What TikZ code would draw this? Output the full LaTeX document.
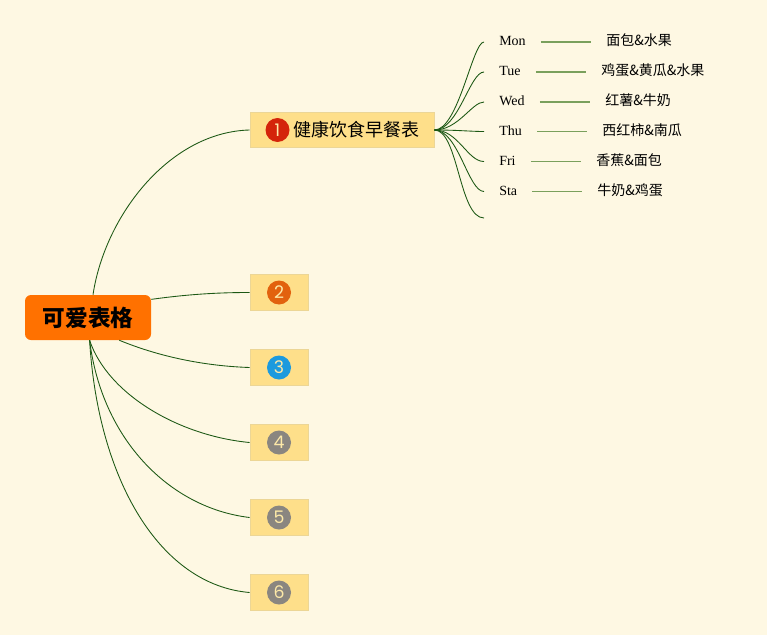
\documentclass[tikz,border=0pt]{standalone}
\usepackage{fontspec}
\setmainfont{Liberation Serif}
\newfontfamily\cjk{Noto Sans CJK SC}
\newfontfamily\numfont{Poppins}
\definecolor{bg}{RGB}{254,248,227}
\definecolor{rootc}{RGB}{255,113,0}
\definecolor{boxc}{RGB}{254,223,138}
\definecolor{boxd}{RGB}{236,214,150}
\definecolor{linec}{RGB}{28,88,20}
\definecolor{leafc}{RGB}{122,160,92}
\definecolor{redc}{RGB}{212,36,10}
\definecolor{orgc}{RGB}{226,98,14}
\definecolor{bluec}{RGB}{28,154,222}
\definecolor{grayc}{RGB}{138,134,128}
\definecolor{digc}{RGB}{253,233,168}
\begin{document}
\begin{tikzpicture}[x=0.75pt,y=-0.75pt,
  rootbox/.style={draw=none,fill=rootc,rounded corners=4.5pt,minimum width=94.5pt,minimum height=33.75pt,inner sep=0pt,
    font=\cjk\bfseries\fontsize{17}{19}\selectfont},
  topicbox/.style={draw=boxd,line width=0.6pt,fill=boxc,minimum height=26.5pt,inner sep=0pt},
  numdot/.style={circle,fill=#1,minimum size=18pt,inner sep=0pt,text=digc,font=\numfont\fontsize{13}{14}\selectfont},
  conn/.style={draw=linec,line width=0.65pt},
  leaf/.style={draw=leafc,line width=1.1pt,shorten <=11.25pt,shorten >=11.25pt},
  daytxt/.style={anchor=west,inner sep=0pt,text height=7.5pt,text depth=2pt,font=\fontsize{10.5}{12}\selectfont},
  foodtxt/.style={anchor=west,inner sep=0pt,text height=7.5pt,text depth=2pt,font=\cjk\fontsize{10.5}{12}\selectfont},
  fan/.style={conn,shorten >=11.25pt}
]
\fill[bg] (0,0) rectangle (767,635);
\useasboundingbox (0,0) rectangle (767,635);

% root
\node[rootbox] (root) at (88,317.5) {可爱表格};

% topic boxes
\node[topicbox,minimum width=138pt] (b1) at (342,130) {};
\node[numdot=redc] (n1) at (277.5,130) {1};
\node[anchor=west,inner sep=0pt,font=\cjk\fontsize{13.5}{15}\selectfont] (t1) at (293.5,130) {健康饮食早餐表};

\foreach \i/\y/\c in {2/292.5/orgc,3/367.5/bluec,4/442.5/grayc,5/517.5/grayc,6/592.5/grayc}{
  \node[topicbox,minimum width=43.5pt] (b\i) at (279,\y) {};
  \node[numdot=\c] (n\i) at (279,\y) {\i};
}

% root connectors
\draw[conn] (root.north) ++(5,0) coordinate (r1) .. controls (105,215) and (170,132) .. (b1.west);
\draw[conn] (root.16) .. controls (190,294) and (220,292.5) .. (b2.west);
\draw[conn] (root.-36) .. controls (160,357) and (205,366) .. (b3.west);
\draw[conn] (root.-86) .. controls (108,395) and (180,436) .. (b4.west);
\draw[conn] (root.-86) .. controls (102,440) and (170,508) .. (b5.west);
\draw[conn] (root.-86) .. controls (98,480) and (160,585) .. (b6.west);

% days
\node[daytxt] (d1) at (499,42) {Mon};
\node[daytxt] (d2) at (499,72) {Tue};
\node[daytxt] (d3) at (499,102) {Wed};
\node[daytxt] (d4) at (499,131.5) {Thu};
\node[daytxt] (d5) at (499,161.5) {Fri};
\node[daytxt] (d6) at (499,191.5) {Sta};
\coordinate (d7) at (499,218);

% foods
\node[foodtxt] (f1) at (606,42) {面包\&水果};
\node[foodtxt] (f2) at (601,72) {鸡蛋\&黄瓜\&水果};
\node[foodtxt] (f3) at (605,102) {红薯\&牛奶};
\node[foodtxt] (f4) at (602,131.5) {西红柿\&南瓜};
\node[foodtxt] (f5) at (596,161.5) {香蕉\&面包};
\node[foodtxt] (f6) at (597,191.5) {牛奶\&鸡蛋};

% fan
\foreach \i in {1,...,7}{
  \draw[fan] (b1.east) .. controls +(24,0) and +(-40,0) .. (d\i);
}
\foreach \i in {1,...,6}{
  \draw[leaf] (d\i.east) -- (f\i.west);
}
\end{tikzpicture}
\end{document}
